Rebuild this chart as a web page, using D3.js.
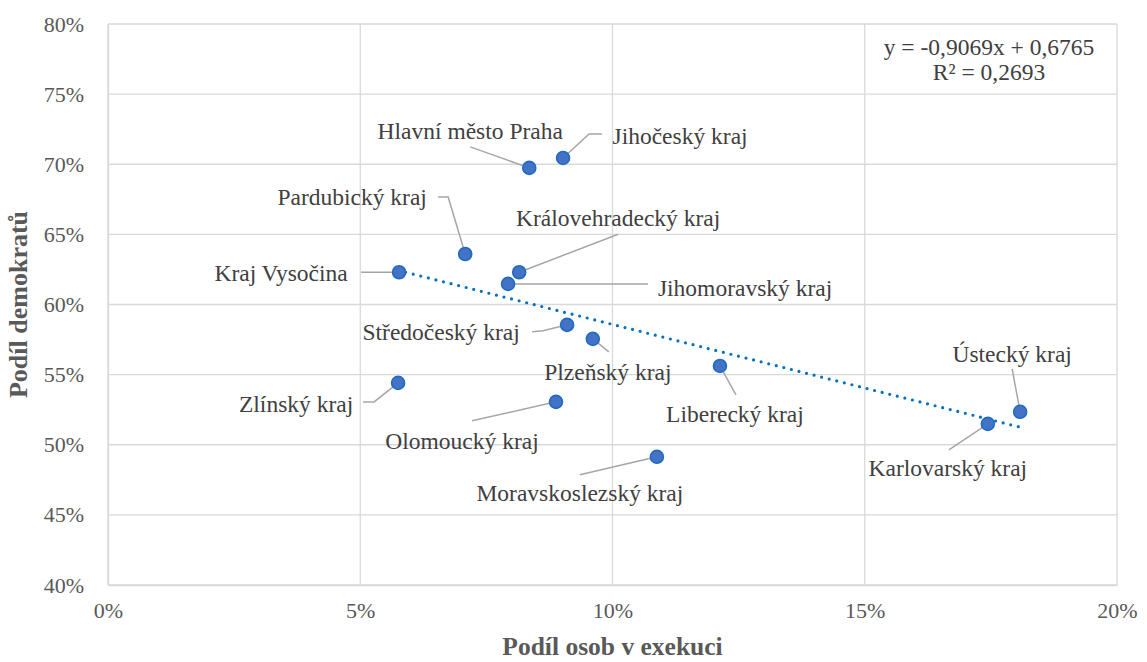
<!DOCTYPE html>
<html>
<head>
<meta charset="utf-8">
<script src="https://cdn.jsdelivr.net/npm/d3@7"></script>
<style>
  html, body { margin: 0; padding: 0; background: #fff; }
  svg { display: block; font-family: "Liberation Serif", "Times New Roman", serif; }
</style>
</head>
<body>
<svg id="chart" width="1147" height="662"></svg>
<script>
// ---- Data ----
const regions = ["Hlavní město Praha", "Jihočeský kraj", "Pardubický kraj", "Královehradecký kraj",
  "Kraj Vysočina", "Jihomoravský kraj", "Středočeský kraj", "Plzeňský kraj", "Liberecký kraj",
  "Zlínský kraj", "Olomoucký kraj", "Moravskoslezský kraj", "Ústecký kraj", "Karlovarský kraj"];
const execShare = [0.0835, 0.0902, 0.0708, 0.0815, 0.0577, 0.0793, 0.0910, 0.0961, 0.1213,
  0.0575, 0.0888, 0.1088, 0.1808, 0.1744];
const demShare = [0.6974, 0.7045, 0.6360, 0.6230, 0.6230, 0.6147, 0.5855, 0.5755, 0.5562,
  0.5441, 0.5306, 0.4914, 0.5235, 0.5149];
const trendSlope = -0.9069;
const trendIntercept = 0.6765;
const trendR2 = 0.2693;
const xTicks = [0, 0.05, 0.10, 0.15, 0.20];
const yTicks = [0.40, 0.45, 0.50, 0.55, 0.60, 0.65, 0.70, 0.75, 0.80];
const xTitle = "Podíl osob v exekuci";
const yTitle = "Podíl demokratů";

// ---- Label layout (pixel offsets from each point: text centre, leader line vertices) ----
const labelLayout = [
  { t: [-59, -37], l: [[-59, -21]] },
  { t: [117, -22], l: [[39, -24], [26, -24]] },
  { t: [-113, -57], l: [[-27, -57], [-17, -57]] },
  { t: [99, -54], l: [[99, -38]] },
  { t: [-118, 1], l: [[-38, 0]] },
  { t: [237, 4], l: [[140, 0]] },
  { t: [-126, 7], l: [[-35, 7], [-24, 6]] },
  { t: [15, 33], l: [[16, 13]] },
  { t: [15, 48], l: [[16, 29]] },
  { t: [-102, 21], l: [[-35, 19], [-24, 19]] },
  { t: [-94, 39], l: [[-84, 19]] },
  { t: [-77, 36], l: [[-77, 18]] },
  { t: [-8, -58], l: [[-8, -43]] },
  { t: [-40, 44], l: [[-39, 26]] }
];

// ---- Chart ----
const svg = d3.select("#chart");
const m = { left: 108, right: 1117, top: 24, bottom: 585 };
const x = d3.scaleLinear().domain([0, 0.20]).range([m.left, m.right]);
const y = d3.scaleLinear().domain([0.40, 0.80]).range([m.bottom, m.top]);
const pct = d3.format(".0%");
const gridColor = "#D9D9D9";

// gridlines
svg.append("g").selectAll("line").data(yTicks).join("line")
  .attr("x1", m.left).attr("x2", m.right)
  .attr("y1", d => y(d)).attr("y2", d => y(d))
  .attr("stroke", gridColor).attr("stroke-width", 1.3);
svg.append("g").selectAll("line").data(xTicks).join("line")
  .attr("x1", d => x(d)).attr("x2", d => x(d))
  .attr("y1", m.top).attr("y2", m.bottom)
  .attr("stroke", gridColor).attr("stroke-width", 1.3);

// axes (labels only, via d3 axes)
const yAxis = svg.append("g").attr("transform", `translate(${m.left},0)`)
  .call(d3.axisLeft(y).tickValues(yTicks).tickFormat(pct).tickSize(0).tickPadding(24));
const xAxis = svg.append("g").attr("transform", `translate(0,${m.bottom})`)
  .call(d3.axisBottom(x).tickValues(xTicks).tickFormat(pct).tickSize(0).tickPadding(17));
[yAxis, xAxis].forEach(g => {
  g.attr("font-family", "Liberation Serif, Times New Roman, serif");
  g.select(".domain").attr("stroke", gridColor).attr("stroke-width", 1.3);
  g.selectAll("text").attr("fill", "#595959").attr("font-size", 22);
});

// axis titles
svg.append("text").attr("x", (m.left + m.right) / 2).attr("y", 655)
  .attr("text-anchor", "middle").attr("font-size", 25.5).attr("font-weight", "bold")
  .attr("fill", "#595959").text(xTitle);
svg.append("text").attr("transform", `translate(27,${(m.top + m.bottom) / 2}) rotate(-90)`)
  .attr("text-anchor", "middle").attr("font-size", 26).attr("font-weight", "bold")
  .attr("fill", "#595959").text(yTitle);

// data
const pts = regions.map((r, i) => ({ name: r, x: execShare[i], y: demShare[i], lay: labelLayout[i] }));

// leader lines
svg.append("g").selectAll("polyline").data(pts).join("polyline")
  .attr("points", d => {
    const px = x(d.x), py = y(d.y);
    const verts = d.lay.l.map(v => [px + v[0], py + v[1]]);
    verts.push([px, py]);
    return verts.map(v => v.join(",")).join(" ");
  })
  .attr("fill", "none").attr("stroke", "#A6A6A6").attr("stroke-width", 1.5);

// trendline
const xmin = d3.min(execShare), xmax = d3.max(execShare);
svg.append("line")
  .attr("x1", x(xmin)).attr("y1", y(trendSlope * xmin + trendIntercept))
  .attr("x2", x(xmax)).attr("y2", y(trendSlope * xmax + trendIntercept))
  .attr("stroke", "#0070C0").attr("stroke-width", 3.2)
  .attr("stroke-linecap", "round").attr("stroke-dasharray", "0 7.8");

// points
svg.append("g").selectAll("circle").data(pts).join("circle")
  .attr("cx", d => x(d.x)).attr("cy", d => y(d.y)).attr("r", 6.5)
  .attr("fill", "#4472C4").attr("stroke", "#1F6BC2").attr("stroke-width", 1.6);

// labels
svg.append("g").selectAll("text").data(pts).join("text")
  .attr("x", d => x(d.x) + d.lay.t[0]).attr("y", d => y(d.y) + d.lay.t[1])
  .attr("dy", "0.35em").attr("text-anchor", "middle")
  .attr("font-size", 23.5).attr("fill", "#404040").text(d => d.name);

// equation
const eq = svg.append("text").attr("text-anchor", "middle").attr("font-size", 23.5).attr("fill", "#404040");
eq.append("tspan").attr("x", 989).attr("y", 55)
  .text(`y = ${String(trendSlope).replace(".", ",")}x + ${String(trendIntercept).replace(".", ",")}`);
eq.append("tspan").attr("x", 989).attr("y", 80)
  .text(`R² = ${String(trendR2).replace(".", ",")}`);
</script>
</body>
</html>
